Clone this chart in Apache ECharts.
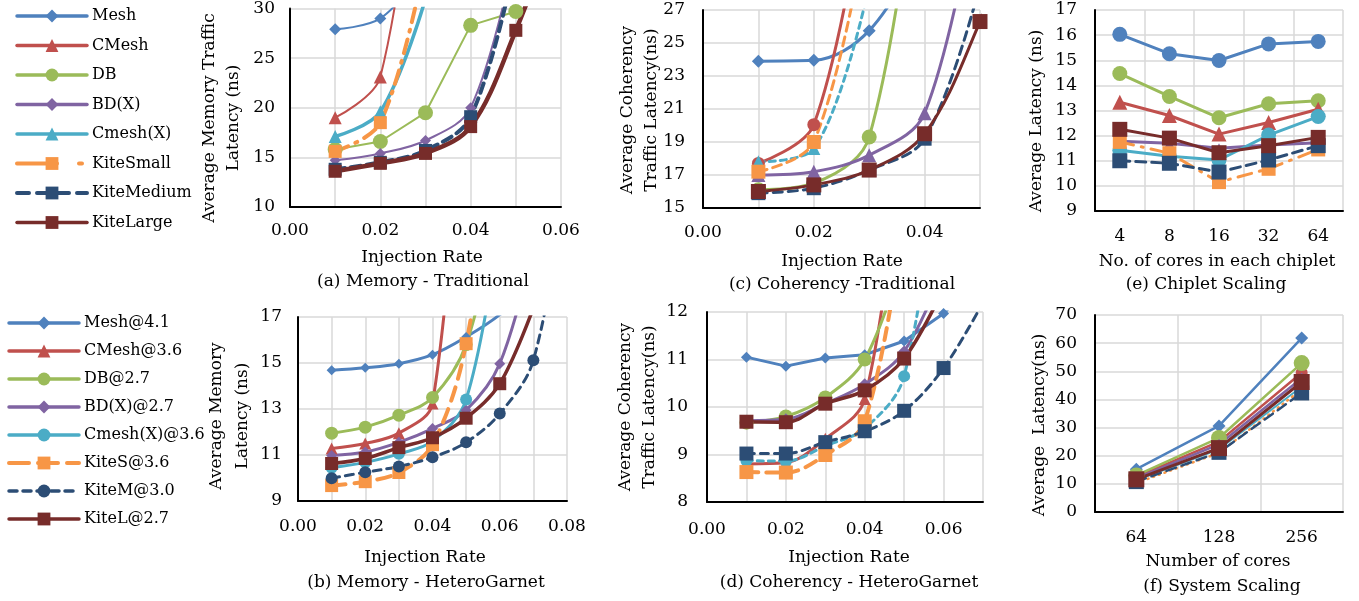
<!DOCTYPE html>
<html>
<head>
<meta charset="utf-8">
<script src="https://cdn.jsdelivr.net/npm/echarts@6/dist/echarts.min.js"></script>
<style>html,body{margin:0;padding:0;background:#fff}#c{width:1359px;height:601px}</style>
</head>
<body>
<div id="c"></div>
<script>
// ---------- data ----------
const rates = [0.01, 0.02, 0.03, 0.04, 0.05, 0.06, 0.07, 0.08];
const namesTop = ['Mesh', 'CMesh', 'DB', 'BD(X)', 'Cmesh(X)', 'KiteSmall', 'KiteMedium', 'KiteLarge'];
const namesBottom = ['Mesh@4.1', 'CMesh@3.6', 'DB@2.7', 'BD(X)@2.7', 'Cmesh(X)@3.6', 'KiteS@3.6', 'KiteM@3.0', 'KiteL@2.7'];
const coresPerChiplet = ['4', '8', '16', '32', '64'];
const systemCores = ['64', '128', '256'];

// (a) Memory - Traditional
const aMesh = [27.9, 29.0, 34];
const aCMesh = [19.0, 23.1, 55];
const aDB = [15.8, 16.6, 19.5, 28.3, 29.7];
const aBDX = [14.7, 15.4, 16.7, 20.0, 36];
const aCmeshX = [17.1, 19.6, 31];
const aKiteSmall = [15.6, 18.5, 35];
const aKiteMedium = [13.8, 14.5, 15.7, 19.1, 35];
const aKiteLarge = [13.6, 14.4, 15.4, 18.1, 27.8, 40];

// (c) Coherency - Traditional
const cMesh = [23.9, 23.95, 25.75, 31];
const cCMesh = [17.7, 20.05, 36];
const cDB = [16.1, 16.5, 19.3, 40];
const cBDX = [17.0, 17.2, 18.2, 20.75, 35];
const cCmeshX = [17.8, 18.6, 28.5];
const cKiteSmall = [17.2, 19.0, 33];
const cKiteMedium = [15.9, 16.2, 17.3, 19.2, 28.5];
const cKiteLarge = [16.0, 16.4, 17.3, 19.5, 26.3, 35];

// (e) Chiplet Scaling
const eMesh = [16.03, 15.26, 14.99, 15.65, 15.75];
const eCMesh = [13.33, 12.8, 12.06, 12.52, 13.05];
const eDB = [14.47, 13.56, 12.71, 13.27, 13.39];
const eBDX = [11.78, 11.7, 11.5, 11.63, 11.72];
const eCmeshX = [11.42, 11.18, 11.03, 12.02, 12.76];
const eKiteSmall = [11.75, 11.3, 10.15, 10.68, 11.45];
const eKiteMedium = [11.0, 10.9, 10.55, 11.03, 11.6];
const eKiteLarge = [12.25, 11.9, 11.32, 11.6, 11.93];

// (b) Memory - HeteroGarnet
const bMesh = [14.68, 14.79, 14.97, 15.36, 16.13, 17.1, 18.5];
const bCMesh = [11.28, 11.5, 11.95, 13.24, 30];
const bDB = [11.95, 12.21, 12.73, 13.5, 15.8, 22];
const bBDX = [10.98, 11.13, 11.55, 12.15, 12.95, 14.97, 20];
const bCmeshX = [10.45, 10.68, 11.05, 11.6, 13.41, 21];
const bKiteS = [9.67, 9.84, 10.24, 11.45, 15.84, 26];
const bKiteM = [9.99, 10.25, 10.5, 10.9, 11.55, 12.8, 15.12, 23];
const bKiteL = [10.63, 10.85, 11.32, 11.75, 12.6, 14.1, 17.4];

// (d) Coherency - HeteroGarnet
const dMesh = [11.05, 10.86, 11.03, 11.1, 11.39, 11.97, 12.8];
const dCMesh = [8.8, 8.83, 9.33, 10.17, 16];
const dDB = [9.67, 9.8, 10.2, 11.0, 13.2];
const dBDX = [9.71, 9.74, 10.07, 10.48, 11.17, 12.9];
const dCmeshX = [8.87, 8.86, 9.18, 9.55, 10.65, 16];
const dKiteS = [8.63, 8.62, 8.99, 9.7, 14];
const dKiteM = [9.02, 9.02, 9.26, 9.49, 9.92, 10.82, 12.2];
const dKiteL = [9.69, 9.68, 10.07, 10.35, 11.02, 12.5];

// (f) System Scaling
const fMesh = [15.2, 30.6, 61.8];
const fCMesh = [12.5, 25.0, 49.5];
const fDB = [13.0, 26.3, 52.9];
const fBDX = [12.0, 24.0, 47.5];
const fCmeshX = [11.3, 22.3, 44.5];
const fKiteS = [10.3, 21.0, 43.5];
const fKiteM = [10.8, 21.2, 42.3];
const fKiteL = [11.6, 22.7, 46.2];

// ---------- styling ----------
const FONT = 'DejaVu Serif';
const C = {
  blue: '#4F81BD', red: '#C0504D', green: '#9BBB59', purple: '#8064A2',
  cyan: '#4BACC6', orange: '#F79646', dkblue: '#2C4D75', dkred: '#772C2A'
};
const GRID_COLOR = '#d9d9d9';

function line(name, g, ys, color, symbol, size, width, dash, smooth, xs) {
  const data = xs ? ys.map((v, i) => [xs[i], v]) : ys.slice();
  return {
    name: name, type: 'line', xAxisIndex: g, yAxisIndex: g,
    data: data, symbol: symbol, symbolSize: size,
    smooth: smooth, clip: true,
    lineStyle: { color: color, width: width, type: dash || 'solid', cap: 'round' },
    itemStyle: { color: color, borderWidth: 0 },
    emphasis: { disabled: true },
    animation: false
  };
}
const DASH = [10, 6];
const DASHDOT = [14, 8, 2, 8];
const SDASH = [6, 5];
const DOT = [1, 5];

const T = namesTop, B = namesBottom, R = rates;
const sm = 0.35;
const series = [
  // (a) grid 0
  line(T[0], 0, aMesh, C.blue, 'diamond', 12, 2, null, sm, R),
  line(T[1], 0, aCMesh, C.red, 'triangle', 13, 2, null, sm, R),
  line(T[2], 0, aDB, C.green, 'circle', 15, 2, null, false, R),
  line(T[3], 0, aBDX, C.purple, 'diamond', 11, 2, null, sm, R),
  line(T[4], 0, aCmeshX, C.cyan, 'triangle', 13, 3.5, null, sm, R),
  line(T[5], 0, aKiteSmall, C.orange, 'rect', 13, 4, DASHDOT, sm, R),
  line(T[6], 0, aKiteMedium, C.dkblue, 'rect', 13, 4, DASH, sm, R),
  line(T[7], 0, aKiteLarge, C.dkred, 'rect', 13, 4.5, null, sm, R),
  // (b) grid 3
  line(B[0], 3, bMesh, C.blue, 'diamond', 10, 3, null, sm, R),
  line(B[1], 3, bCMesh, C.red, 'triangle', 12, 3, null, sm, R),
  line(B[2], 3, bDB, C.green, 'circle', 13, 3, null, sm, R),
  line(B[3], 3, bBDX, C.purple, 'diamond', 11, 3, null, sm, R),
  line(B[4], 3, bCmeshX, C.cyan, 'circle', 12, 3, null, sm, R),
  line(B[5], 3, bKiteS, C.orange, 'rect', 13, 4, [14, 9], sm, R),
  line(B[6], 3, bKiteM, C.dkblue, 'circle', 12, 3, [8, 6], sm, R),
  line(B[7], 3, bKiteL, C.dkred, 'rect', 13, 3.5, null, sm, R),
  // (c) grid 1
  line(T[0], 1, cMesh, C.blue, 'diamond', 13, 3, null, sm, R),
  line(T[1], 1, cCMesh, C.red, 'circle', 13, 3, null, sm, R),
  line(T[2], 1, cDB, C.green, 'circle', 15, 3, null, sm, R),
  line(T[3], 1, cBDX, C.purple, 'triangle', 14, 3, null, sm, R),
  line(T[4], 1, cCmeshX, C.cyan, 'triangle', 13, 3, SDASH, sm, R),
  line(T[5], 1, cKiteSmall, C.orange, 'rect', 14, 3, [9, 6], sm, R),
  line(T[6], 1, cKiteMedium, C.dkblue, 'rect', 14, 3, [9, 6], sm, R),
  line(T[7], 1, cKiteLarge, C.dkred, 'rect', 15, 3, null, sm, R),
  // (e) grid 2
  line(T[0], 2, eMesh, C.blue, 'circle', 15, 3, null, false),
  line(T[2], 2, eDB, C.green, 'circle', 15, 3, null, false),
  line(T[1], 2, eCMesh, C.red, 'triangle', 15, 3, null, false),
  line(T[3], 2, eBDX, C.purple, 'triangle', 10, 3, null, false),
  line(T[4], 2, eCmeshX, C.cyan, 'circle', 15, 3, null, false),
  line(T[5], 2, eKiteSmall, C.orange, 'rect', 14, 3, DASHDOT, false),
  line(T[6], 2, eKiteMedium, C.dkblue, 'rect', 15, 3, DASH, false),
  line(T[7], 2, eKiteLarge, C.dkred, 'rect', 15, 3, null, false),
  // (d) grid 4
  line(B[0], 4, dMesh, C.blue, 'diamond', 11, 3, null, false, R),
  line(B[1], 4, dCMesh, C.red, 'triangle', 12, 3, null, sm, R),
  line(B[2], 4, dDB, C.green, 'circle', 14, 3, null, sm, R),
  line(B[3], 4, dBDX, C.purple, 'diamond', 12, 3, null, sm, R),
  line(B[4], 4, dCmeshX, C.cyan, 'circle', 12, 3, SDASH, sm, R),
  line(B[5], 4, dKiteS, C.orange, 'rect', 14, 4, [12, 8], sm, R),
  line(B[6], 4, dKiteM, C.dkblue, 'rect', 14, 3, [8, 6], sm, R),
  line(B[7], 4, dKiteL, C.dkred, 'rect', 14, 3.5, null, sm, R),
  // (f) grid 5
  line(B[0], 5, fMesh, C.blue, 'diamond', 13, 2.5, null, false),
  line(B[1], 5, fCMesh, C.red, 'circle', 12, 2.5, null, false),
  line(B[2], 5, fDB, C.green, 'circle', 16, 2.5, null, false),
  line(B[3], 5, fBDX, C.purple, 'diamond', 11, 2.5, null, false),
  line(B[4], 5, fCmeshX, C.cyan, 'circle', 11, 2, null, false),
  line(B[5], 5, fKiteS, C.orange, 'rect', 12, 2.5, DOT, false),
  line(B[6], 5, fKiteM, C.dkblue, 'rect', 15, 2.5, DASH, false),
  line(B[7], 5, fKiteL, C.dkred, 'rect', 16, 3, null, false)
];

// ---------- axes ----------
const grids = [
  { left: 290, top: 8, width: 271, height: 199 },    // (a)
  { left: 703, top: 10, width: 277, height: 198 },   // (c)
  { left: 1095, top: 10, width: 248, height: 201 },  // (e)
  { left: 298, top: 317, width: 269, height: 184 },  // (b)
  { left: 707, top: 312, width: 276, height: 190 },  // (d)
  { left: 1095, top: 315, width: 248, height: 197 }  // (f)
];
const axisLine = { show: true, onZero: false, lineStyle: { color: '#000', width: 2 } };
const splitLine = { show: true, lineStyle: { color: GRID_COLOR, width: 1.5 } };
const lab = (m) => ({ color: '#000', fontSize: 17, fontFamily: FONT, margin: m });
const rateFmt = (v) => (Math.round(v * 100) % 2 === 0 ? v.toFixed(2) : '');

function valX(g, max, m) {
  return { type: 'value', gridIndex: g, min: 0, max: max, interval: 0.01,
    axisLine: axisLine, axisTick: { show: false }, splitLine: splitLine,
    axisLabel: Object.assign(lab(m), { formatter: rateFmt, showMaxLabel: true, showMinLabel: true }) };
}
function catX(g, cats, m) {
  return { type: 'category', gridIndex: g, data: cats, boundaryGap: true,
    axisLine: axisLine, axisTick: { show: false }, splitLine: splitLine,
    axisLabel: Object.assign(lab(m), { interval: 0 }) };
}
function valY(g, min, max, itv, m) {
  return { type: 'value', gridIndex: g, min: min, max: max, interval: itv,
    axisLine: axisLine, axisTick: { show: false }, splitLine: splitLine,
    axisLabel: lab(m) };
}

const xAxis = [
  valX(0, 0.06, 15),
  valX(1, 0.05, 16),
  catX(2, coresPerChiplet, 17),
  valX(3, 0.08, 17),
  valX(4, 0.07, 19),
  catX(5, systemCores, 17)
];
const yAxis = [
  valY(0, 10, 30, 5, 15),
  valY(1, 15, 27, 2, 18),
  valY(2, 9, 17, 1, 18),
  valY(3, 9, 17, 2, 16),
  valY(4, 8, 12, 1, 19),
  valY(5, 0, 70, 10, 18)
];

// ---------- titles (text) ----------
function txt(s, x, y, rot, size, lh) {
  return { type: 'text', x: x, y: y, rotation: rot ? Math.PI / 2 : 0, silent: true,
    style: { text: s, fontSize: size || 17, fontFamily: FONT, fill: '#000',
      align: 'center', verticalAlign: 'middle', textAlign: 'center', textVerticalAlign: 'middle',
      lineHeight: lh || 24 } };
}
const graphic = [
  txt('Average Memory Traffic\nLatency (ns)', 222, 118, true),
  txt('Injection Rate', 422, 258),
  txt('(a) Memory - Traditional', 423, 282),
  txt('Average Coherency\nTraffic Latency(ns)', 640, 110, true),
  txt('Injection Rate', 842, 262),
  txt('(c) Coherency -Traditional', 842, 285),
  txt('Average Latency (ns)', 1037, 121, true),
  txt('No. of cores in each chiplet', 1217, 262),
  txt('(e) Chiplet Scaling', 1206, 285),
  txt('Average Memory\nLatency (ns)', 230, 416, true, 17, 26),
  txt('Injection Rate', 425, 558),
  txt('(b) Memory - HeteroGarnet', 426, 583),
  txt('Average Coherency\nTraffic Latency(ns)', 638, 407, true),
  txt('Injection Rate', 849, 558),
  txt('(d) Coherency - HeteroGarnet', 849, 583),
  txt('Average  Latency(ns)', 1040, 425, true),
  txt('Number of cores', 1218, 562),
  txt('(f) System Scaling', 1222, 587)
];

// ---------- legends ----------
const legendCommon = {
  orient: 'vertical', itemWidth: 70, itemHeight: 16,
  textStyle: { fontSize: 16, fontFamily: FONT, color: '#000', lineHeight: 16 },
  lineStyle: { width: 3.5 }, selectedMode: false
};
const legendTopData = namesTop.map((n) => {
  const o = { name: n };
  if (n === 'KiteSmall') o.lineStyle = { type: [40, 22, 3, 20], width: 4 };
  if (n === 'KiteMedium') o.lineStyle = { type: [12, 8], width: 4 };
  return o;
});
const legendBottomData = namesBottom.map((n) => {
  const o = { name: n };
  if (n === 'KiteS@3.6') o.lineStyle = { type: [20, 9], width: 4 };
  if (n === 'KiteM@3.0') o.lineStyle = { type: [8, 6], width: 3.5 };
  return o;
});
const legend = [
  Object.assign({}, legendCommon, { left: 10, top: 3, itemGap: 13.5, data: legendTopData }),
  Object.assign({}, legendCommon, { left: 2, top: 310, itemGap: 12, data: legendBottomData })
];

const chart = echarts.init(document.getElementById('c'), null, { renderer: 'canvas' });
chart.setOption({
  animation: false,
  backgroundColor: '#fff',
  textStyle: { fontFamily: FONT },
  grid: grids, xAxis: xAxis, yAxis: yAxis,
  legend: legend, graphic: graphic, series: series
});
</script>
</body>
</html>
